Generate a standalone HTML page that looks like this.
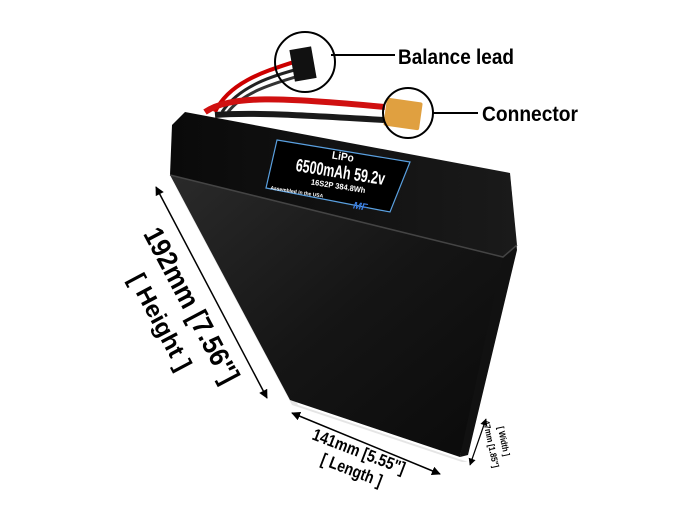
<!DOCTYPE html>
<html><head><style>
html,body{margin:0;padding:0;background:#fff;}
svg{display:block}
text{font-family:"Liberation Sans",sans-serif;font-weight:bold;}
</style></head><body>
<svg width="686" height="511" viewBox="0 0 686 511" xmlns="http://www.w3.org/2000/svg">
<defs>
<linearGradient id="front" x1="0" y1="0" x2="1" y2="1">
<stop offset="0" stop-color="#2a2a2a"/><stop offset="0.5" stop-color="#151515"/><stop offset="1" stop-color="#0a0a0a"/>
</linearGradient>
<linearGradient id="top" x1="0" y1="0" x2="1" y2="0">
<stop offset="0" stop-color="#0a0a0a"/><stop offset="1" stop-color="#1a1a1a"/>
</linearGradient>
<marker id="ah" viewBox="0 0 10 10" refX="9" refY="5" markerWidth="6" markerHeight="6" orient="auto-start-reverse"><path d="M0,0 L10,5 L0,10 z" fill="#000"/></marker>
</defs>
<polygon points="172,180 292,405 462,462 468,462 298,405" fill="#ccc" opacity="0.5"/>
<path d="M215,112 C230,80 270,70 300,60" stroke="#c00" stroke-width="4" fill="none"/>
<path d="M222,112 C240,85 275,75 302,68" stroke="#222" stroke-width="3" fill="none"/>
<path d="M228,112 C245,90 280,82 302,75" stroke="#333" stroke-width="3" fill="none"/>
<path d="M205,112 C230,95 280,97 385,107" stroke="#d01010" stroke-width="6" fill="none"/>
<path d="M215,115 C250,112 300,115 385,120" stroke="#1a1a1a" stroke-width="6" fill="none"/>
<rect x="292" y="48" width="22" height="32" fill="#111" transform="rotate(-10 303 64)"/>
<rect x="385" y="100" width="36" height="28" rx="2" fill="#e0a040" transform="rotate(8 403 114)"/>
<circle cx="305" cy="62" r="30" fill="none" stroke="#000" stroke-width="2"/>
<circle cx="408" cy="113" r="25" fill="none" stroke="#000" stroke-width="2"/>
<line x1="331" y1="55" x2="395" y2="55" stroke="#000" stroke-width="2"/>
<line x1="433" y1="113" x2="478" y2="113" stroke="#000" stroke-width="2"/>
<text x="398" y="64" font-size="21" textLength="116" lengthAdjust="spacingAndGlyphs" fill="#000">Balance lead</text>
<text x="482" y="121" font-size="21" textLength="96" lengthAdjust="spacingAndGlyphs" fill="#000">Connector</text>
<polygon points="510,175 517,250 468,455 460,457" fill="#111"/>
<polygon points="170,175 503,257 460,457 290,400" fill="url(#front)"/>
<polygon points="185,112 510,173 517,245 503,257 170,175 172,125" fill="url(#top)"/>
<path d="M170,175 L503,257 L517,245" stroke="#444" stroke-width="1.5" fill="none"/>
<polygon points="277,140 410,162 390,212 266,188" fill="#000" stroke="#5aa0e0" stroke-width="1.2"/>
<g transform="rotate(9 340 175)" fill="#fff" text-anchor="middle">
<text x="340" y="160" font-size="11" textLength="22" lengthAdjust="spacingAndGlyphs">LiPo</text>
<text x="340" y="178" font-size="18" textLength="90" lengthAdjust="spacingAndGlyphs">6500mAh 59.2v</text>
<text x="340" y="189" font-size="8" textLength="55" lengthAdjust="spacingAndGlyphs">16S2P 384.8Wh</text>
<text x="300" y="200" font-size="5">Assembled in the USA</text>
<text x="365" y="206" font-size="10" fill="#3b7de0" font-style="italic">MF</text>
</g>
<line x1="156" y1="187" x2="267" y2="398" stroke="#000" stroke-width="1.5" marker-start="url(#ah)" marker-end="url(#ah)"/>
<g transform="translate(192,305) rotate(62)" text-anchor="middle" fill="#000">
<text x="0" y="10" font-size="28" textLength="172" lengthAdjust="spacingAndGlyphs">192mm [7.56"]</text>
<text x="0" y="44" font-size="24" textLength="106" lengthAdjust="spacingAndGlyphs">[ Height ]</text>
</g>
<line x1="292" y1="413" x2="440" y2="474" stroke="#000" stroke-width="1.5" marker-start="url(#ah)" marker-end="url(#ah)"/>
<g transform="translate(359,451) rotate(21)" text-anchor="middle" fill="#000">
<text x="0" y="6" font-size="17" textLength="98" lengthAdjust="spacingAndGlyphs">141mm [5.55"]</text>
<text x="0" y="26" font-size="17" textLength="64" lengthAdjust="spacingAndGlyphs">[ Length ]</text>
</g>
<line x1="486" y1="419" x2="470" y2="465" stroke="#000" stroke-width="1.2" marker-start="url(#ah)" marker-end="url(#ah)"/>
<g transform="translate(491,444) rotate(78)" text-anchor="middle" fill="#000">
<text x="0" y="3" font-size="9" textLength="48" lengthAdjust="spacingAndGlyphs">47mm [1.85"]</text>
<text x="0" y="-10" font-size="9" textLength="30" lengthAdjust="spacingAndGlyphs">[ Width ]</text>
</g>
</svg>
</body></html>
